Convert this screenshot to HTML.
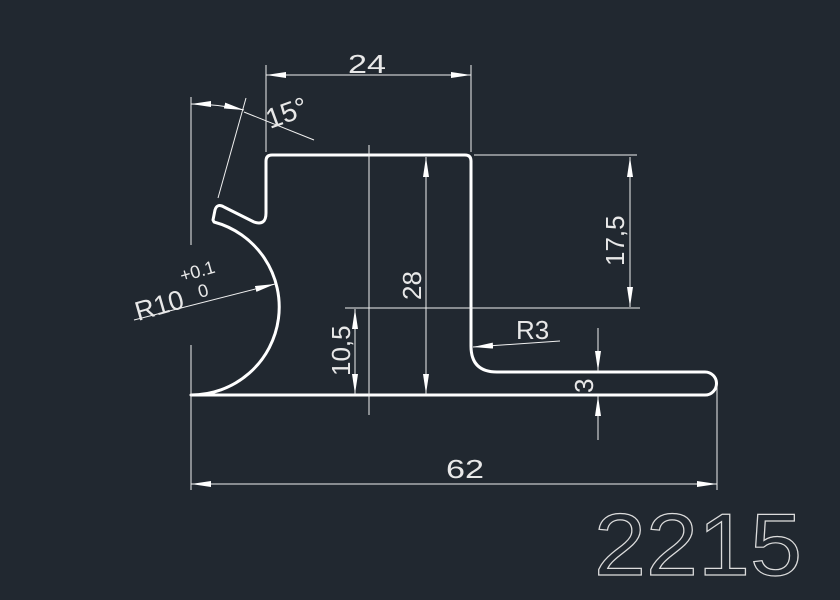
<!DOCTYPE html>
<html><head><meta charset="utf-8"><style>
html,body{margin:0;padding:0;background:#212830;}
svg{display:block}
text{font-family:"Liberation Sans",sans-serif;fill:#e8e8e8;}
</style></head><body>
<svg width="840" height="600" viewBox="0 0 840 600" xmlns="http://www.w3.org/2000/svg">
<rect width="840" height="600" fill="#212830"/>
<defs>
<marker id="a" viewBox="0 0 20 6" refX="20" refY="3" markerWidth="20" markerHeight="6" markerUnits="userSpaceOnUse" orient="auto-start-reverse"><path d="M0,0 L20,3 L0,6 Z" fill="#fff"/></marker>
</defs>
<path d="M191,395 L705,395 A11.5,11.5 0 0 0 705,372 L497,372 Q471,372 471,346 L471,161 Q471,155 465,155 L272,155 Q266,155 266,161 L266,213 Q266,226 254,222 L224,207 Q217,203 215,210 L213,220 Q214,222 214,222 A88,88 0 0 1 191,395 Z" fill="none" stroke="#fff" stroke-width="3" stroke-linejoin="round"/>
<g stroke="#f0f0f0" stroke-width="1" fill="none">
<line x1="266" y1="65" x2="266" y2="152"/>
<line x1="471" y1="65" x2="471" y2="152"/>
<line x1="266" y1="75" x2="471" y2="75" marker-start="url(#a)" marker-end="url(#a)"/>
<line x1="191" y1="97" x2="191" y2="245"/>
<line x1="191" y1="345" x2="191" y2="490"/>
<line x1="717" y1="385" x2="717" y2="490"/>
<line x1="218" y1="198" x2="246" y2="98"/>
<path d="M191,104 Q218,104 244,110" marker-start="url(#a)" marker-end="url(#a)"/>
<line x1="244" y1="112" x2="314" y2="140"/>
<line x1="369" y1="145" x2="369" y2="415"/>
<line x1="426" y1="157" x2="426" y2="394" marker-start="url(#a)" marker-end="url(#a)"/>
<line x1="345" y1="308" x2="640" y2="308"/>
<line x1="355" y1="309" x2="355" y2="394" marker-start="url(#a)" marker-end="url(#a)"/>
<line x1="474" y1="155" x2="637" y2="155"/>
<line x1="630" y1="157" x2="630" y2="307" marker-start="url(#a)" marker-end="url(#a)"/>
<line x1="560" y1="341" x2="473" y2="347" marker-end="url(#a)"/>
<line x1="598" y1="328" x2="598" y2="371" marker-end="url(#a)"/>
<line x1="598" y1="440" x2="598" y2="396" marker-end="url(#a)"/>
<line x1="191" y1="484" x2="717" y2="484" marker-start="url(#a)" marker-end="url(#a)"/>
<line x1="134" y1="320" x2="275" y2="284" marker-end="url(#a)"/>
</g>
<g font-size="26">
<text x="348" y="73" textLength="38" lengthAdjust="spacingAndGlyphs">24</text>
<text x="446" y="478" textLength="38" lengthAdjust="spacingAndGlyphs">62</text>
<text x="516" y="339">R3</text>
<text transform="translate(421,300) rotate(-90)">28</text>
<text transform="translate(350,376) rotate(-90)">10,5</text>
<text transform="translate(624,266) rotate(-90)">17,5</text>
<text transform="translate(593,393) rotate(-90)">3</text>
<text transform="translate(270,129) rotate(-20)" font-size="28">15°</text>
<text transform="translate(138,321) rotate(-16)" font-size="27">R10</text>
<text transform="translate(182,282) rotate(-16)" font-size="18">+0.1</text>
<text transform="translate(200,298) rotate(-16)" font-size="18">0</text>
</g>
<text x="594" y="575" font-size="88" textLength="208" lengthAdjust="spacingAndGlyphs" style="fill:none;stroke:#dcdcdc;stroke-width:1.2">2215</text>
</svg>
</body></html>
